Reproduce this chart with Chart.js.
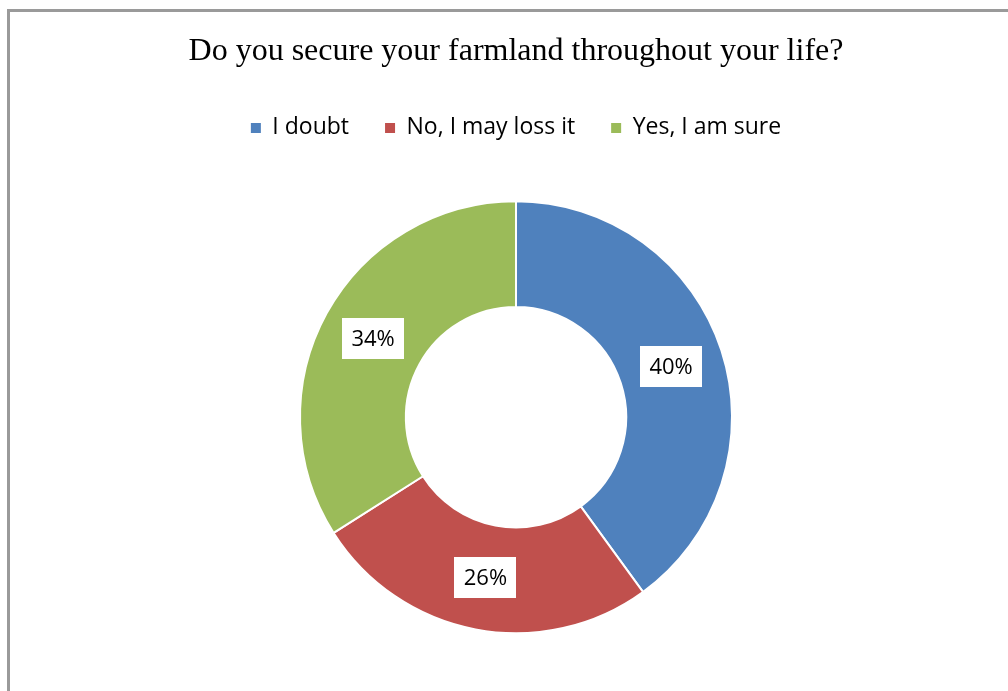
<!DOCTYPE html>
<html>
<head>
<meta charset="utf-8">
<script src="https://cdn.jsdelivr.net/npm/chart.js@4.4.1/dist/chart.umd.min.js"></script>
<style>
  html, body { margin: 0; padding: 0; background: #fff; overflow: hidden; }
  #frame { position: absolute; left: 7px; top: 9px; width: 1010px; height: 700px;
           border-left: 3px solid #9a9a9a; border-top: 3px solid #9a9a9a; }
  #wrap { position: absolute; left: 0; top: 0; width: 1008px; height: 691px; }
</style>
</head>
<body>
<div id="frame"></div>
<div id="wrap"><canvas id="chart" width="1008" height="691"></canvas></div>
<script>
const titleText = 'Do you secure your farmland throughout your life?';
const categories = ['I doubt', 'No, I may loss it', 'Yes, I am sure'];
const shares = [40, 26, 34];
const sliceColors = ['#4F81BD', '#C0504D', '#9BBB59'];

// Percentage labels in white boxes at the middle of each ring segment
const sliceLabels = {
  id: 'sliceLabels',
  afterDatasetsDraw(chart) {
    const ctx = chart.ctx;
    const meta = chart.getDatasetMeta(0);
    ctx.save();
    ctx.font = '22px "Open Sans", sans-serif';
    ctx.textAlign = 'center';
    ctx.textBaseline = 'middle';
    meta.data.forEach((arc, i) => {
      const p = arc.tooltipPosition();
      const w = 62, h = 41;
      ctx.fillStyle = '#ffffff';
      ctx.fillRect(Math.round(p.x - w / 2), Math.round(p.y - h / 2), w, h);
      ctx.fillStyle = '#000000';
      ctx.fillText(shares[i] + '%', p.x, p.y + 1);
    });
    ctx.restore();
  }
};

new Chart(document.getElementById('chart'), {
  type: 'doughnut',
  data: {
    labels: categories,
    datasets: [{
      data: shares,
      backgroundColor: sliceColors,
      borderColor: '#ffffff',
      borderWidth: 2,
      radius: 216,
      cutout: '51%'
    }]
  },
  options: {
    responsive: false,
    animation: false,
    layout: { padding: { left: 24, right: 0, top: 0, bottom: 6 } },
    plugins: {
      title: {
        display: true,
        text: titleText,
        color: '#000000',
        font: { family: '"Liberation Serif", "Times New Roman", serif', size: 32, weight: 'normal' },
        padding: { top: 32, bottom: 10 }
      },
      legend: {
        display: true,
        position: 'top',
        labels: {
          color: '#000000',
          boxWidth: 10,
          boxHeight: 10,
          padding: 36,
          font: { family: '"Open Sans", sans-serif', size: 23 },
          generateLabels(chart) {
            return Chart.overrides.doughnut.plugins.legend.labels.generateLabels(chart)
              .map(item => Object.assign(item, { lineWidth: 0, strokeStyle: 'rgba(0,0,0,0)' }));
          }
        }
      },
      tooltip: { enabled: false }
    }
  },
  plugins: [sliceLabels]
});
</script>
</body>
</html>
